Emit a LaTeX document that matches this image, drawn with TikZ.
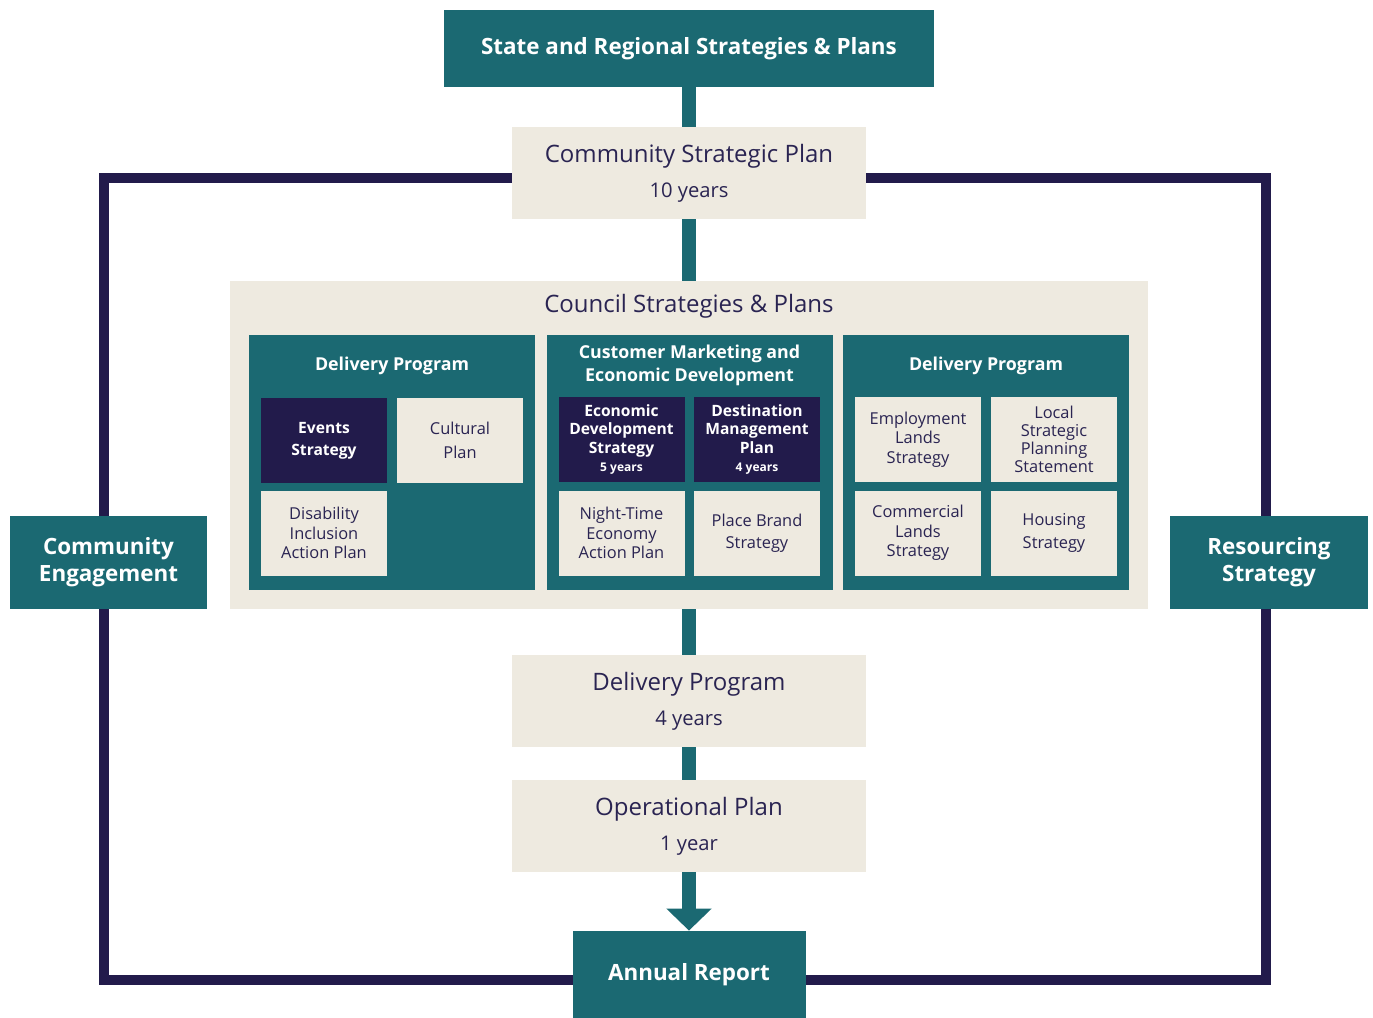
\documentclass[tikz,border=0pt]{standalone}
\usepackage{fontspec}
\setmainfont{Open Sans}
\usetikzlibrary{positioning,arrows.meta}

\definecolor{planteal}{HTML}{1B6972}
\definecolor{plannavy}{HTML}{221B4B}
\definecolor{planbeige}{HTML}{EEEAE0}
\definecolor{plantext}{HTML}{2A2452}

\begin{document}
\begin{tikzpicture}[x=0.5pt,y=-0.5pt,
  tealbox/.style={fill=planteal, text=white, align=center, inner sep=0pt,
    font=\bfseries\fontsize{11.2}{13.5}\selectfont},
  paperbox/.style={fill=planbeige, text=plantext, align=center, inner sep=0pt,
    minimum width=177pt, minimum height=46pt, font=\fontsize{12}{17.5}\selectfont},
  panel/.style={fill=planteal, inner sep=0pt, minimum width=143pt, minimum height=127.5pt},
  paneltitle/.style={text=white, align=center, font=\bfseries\fontsize{8.9}{11.5}\selectfont},
  cell/.style={fill=planbeige, text=plantext, align=center, inner sep=0pt,
    minimum width=63pt, minimum height=42.5pt, font=\fontsize{8.2}{9.7}\selectfont},
  darkcell/.style={cell, fill=plannavy, text=white, font=\bfseries\fontsize{7.8}{9.1}\selectfont},
  stem/.style={draw=planteal, line width=7pt},
  loopline/.style={draw=plannavy, line width=5pt}]

  \useasboundingbox [fill=white] (0,0) rectangle (1373,1018);

  % engagement loop behind everything
  \draw [loopline] (104,178) rectangle (1266,980);

  \node (state) at (689,48.5) [tealbox, minimum width=245pt, minimum height=38.5pt] {State and Regional Strategies \& Plans};
  \node (csp) at (689,173) [paperbox] {Community Strategic Plan\\{\fontsize{10.1}{17.5}\selectfont 10 years}};

  \node (council) at (689,445) [fill=planbeige, inner sep=0pt, minimum width=459pt, minimum height=164pt] {};
  \node (counciltitle) at (689,306) [text=plantext, font=\fontsize{12}{14}\selectfont] {Council Strategies \& Plans};

  \foreach \name/\cx/\title in {pdel/392/{Delivery Program}, pcmed/689.5/{Customer Marketing and\\Economic Development}, pland/986/{Delivery Program}}
  {
    \node (\name) at (\cx,462.5) [panel] {};
    \node (\name-title) at (\cx,365.5) [paneltitle] {\title};
  }

  % navy cells
  \foreach \name/\cx/\cy/\txt in {events/324/440.5/{Events\\[2pt]Strategy},
      econ/621.5/439.5/{Economic\\Development\\Strategy\\{\fontsize{6}{9}\selectfont 5 years}},
      dest/757/439.5/{Destination\\Management\\Plan\\{\fontsize{6}{9}\selectfont 4 years}}}
    \node (\name) at (\cx,\cy) [darkcell] {\txt};

  % beige cells
  \foreach \name/\cx/\cy/\txt in {cultural/460/440.5/{Cultural\\[2pt]Plan},
      disability/324/533/{Disability\\Inclusion\\Action Plan},
      nighttime/621.5/533/{Night-Time\\Economy\\Action Plan},
      placebrand/757/533/{Place Brand\\[1.5pt]Strategy},
      employment/918/439.5/{Employment\\Lands\\Strategy},
      lsps/1054/439.5/{Local\\[-0.6pt]Strategic\\[-0.6pt]Planning\\[-0.6pt]Statement},
      commercial/918/533/{Commercial\\Lands\\Strategy},
      housing/1054/533/{Housing\\[1.5pt]Strategy}}
    \node (\name) at (\cx,\cy) [cell] {\txt};

  \node (deliv) at (689,701) [paperbox] {Delivery Program\\{\fontsize{10.1}{17.5}\selectfont 4 years}};
  \node (oper) at (689,826) [paperbox] {Operational Plan\\{\fontsize{10.1}{17.5}\selectfont 1 year}};
  \node (annual) at (689,974.5) [tealbox, minimum width=116.5pt, minimum height=43.5pt] {Annual Report};

  \node (commeng) at (108.5,562.5) [tealbox, minimum width=98.5pt, minimum height=46.5pt] {Community\\Engagement};
  \node (resourcing) at (1269,562.5) [tealbox, minimum width=99pt, minimum height=46.5pt] {Resourcing\\Strategy};

  \draw [stem] (state) -- (csp);
  \draw [stem] (csp) -- (council);
  \draw [stem] (council) -- (deliv);
  \draw [stem] (deliv) -- (oper);
  \draw [stem, -{Triangle[width=22pt,length=11pt]}] (oper) -- (annual);
\end{tikzpicture}
\end{document}
